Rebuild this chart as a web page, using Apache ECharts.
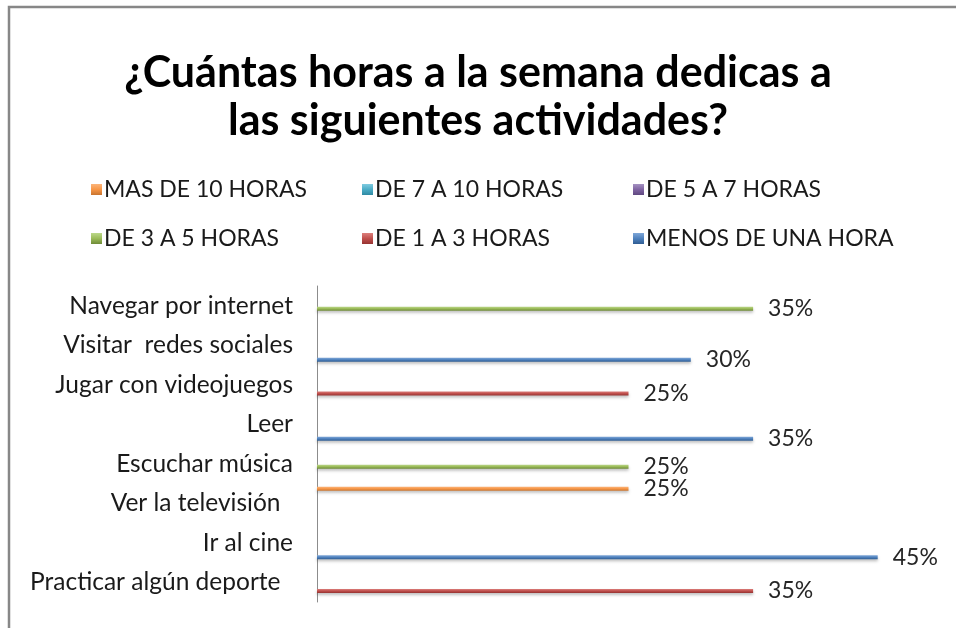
<!DOCTYPE html>
<html>
<head>
<meta charset="utf-8">
<title>Horas a la semana</title>
<script src="https://cdn.jsdelivr.net/npm/echarts@6/dist/echarts.min.js"></script>
<style>
  html, body { margin: 0; padding: 0; background: #fff; }
  #chart { width: 956px; height: 628px; }
</style>
</head>
<body>
<div id="chart"></div>
<script>
// categorias (de arriba a abajo)
var categories = [
  'Navegar por internet',
  'Visitar  redes sociales',
  'Jugar con videojuegos',
  'Leer',
  'Escuchar música',
  'Ver la televisión  ',
  'Ir al cine',
  'Practicar algún deporte  '
]
// una serie por rango de horas, null = sin dato
var seriesNames = ['MAS DE 10 HORAS', 'DE 7 A 10 HORAS', 'DE 5 A 7 HORAS', 'DE 3 A 5 HORAS', 'DE 1 A 3 HORAS', 'MENOS DE UNA HORA']
var masDe10 = [null, null, null, null, null, 25, null, null]
var de7a10 = [null, null, null, null, null, null, null, null]
var de5a7 = [null, null, null, null, null, null, null, null]
var de3a5 = [35, null, null, null, 25, null, null, null]
var de1a3 = [null, null, 25, null, null, null, null, 35]
var menosDeUna = [null, 30, null, 35, null, null, 45, null]
var xTicks = [0, 50]

var seriesData = [masDe10, de7a10, de5a7, de3a5, de1a3, menosDeUna]
var colors = [
  ['#fbb47a', '#f79646', '#c8742f'],
  ['#7fcbe0', '#4bacc6', '#2f8aa3'],
  ['#a592c2', '#8064a2', '#5f4880'],
  ['#bcd88a', '#9bbb59', '#6f8b38'],
  ['#dc7f7c', '#c0504d', '#963331'],
  ['#7fa7d8', '#4f81bd', '#2f5d93']
]

var chart = echarts.init(document.getElementById('chart'))

var series = seriesData.map(function (d, i) {
  return {
    name: seriesNames[i],
    type: 'bar',
    data: d,
    barWidth: 4,
    barGap: '45%',
    itemStyle: {
      color: {
        type: 'linear', x: 0, y: 0, x2: 0, y2: 1,
        colorStops: [
          { offset: 0, color: colors[i][0] },
          { offset: 0.5, color: colors[i][1] },
          { offset: 1, color: colors[i][2] }
        ]
      },
      shadowColor: 'rgba(0,0,0,0.25)',
      shadowBlur: 3,
      shadowOffsetY: 2
    },
    label: {
      show: true,
      position: 'right',
      distance: 15,
      formatter: '{c}%',
      fontFamily: 'Lato',
      fontSize: 23,
      color: '#262626'
    }
  }
})

var option = {
  backgroundColor: '#fff',
  animation: false,
  color: colors.map(function (c) { return c[1] }),
  title: {
    text: '¿Cuántas horas a la semana dedicas a\nlas siguientes actividades?',
    left: 'center',
    top: 44,
    textStyle: {
      fontFamily: 'Lato',
      fontSize: 43,
      fontWeight: 'bold',
      lineHeight: 48,
      color: '#000'
    }
  },
  legend: {
    left: 86,
    top: 160,
    width: 840,
    itemWidth: 11,
    itemHeight: 11,
    itemGap: 0,
    icon: 'rect',
    data: seriesNames,
    textStyle: {
      fontFamily: 'Lato',
      fontSize: 23,
      color: '#1a1a1a',
      width: 258,
      lineHeight: 49,
      padding: [0, 0, 0, -3]
    }
  },
  graphic: [{
    type: 'rect',
    shape: { x: 9, y: 7, width: 1000, height: 700 },
    style: { fill: 'none', stroke: '#878787', lineWidth: 2.5 },
    silent: true
  }],
  grid: {
    left: 317,
    right: 16,
    top: 286,
    bottom: 26
  },
  xAxis: {
    type: 'value',
    min: xTicks[0],
    max: xTicks[1],
    show: false
  },
  yAxis: {
    type: 'category',
    inverse: true,
    data: categories,
    axisLine: { show: true, lineStyle: { color: '#8c8c8c', width: 1 } },
    axisTick: { show: false },
    axisLabel: {
      margin: 24,
      fontFamily: 'Lato',
      fontSize: 24.5,
      color: '#1a1a1a'
    }
  },
  series: series
}

chart.setOption(option)
</script>
</body>
</html>
